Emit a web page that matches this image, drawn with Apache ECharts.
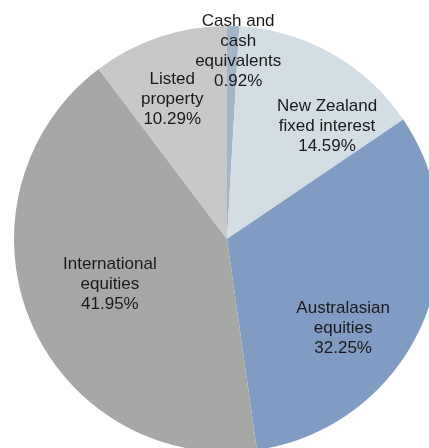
<!DOCTYPE html>
<html>
<head>
<meta charset="utf-8">
<script src="https://cdn.jsdelivr.net/npm/echarts@6/dist/echarts.min.js"></script>
<style>
  html, body { margin: 0; padding: 0; background: #fff; }
  #chart { width: 429px; height: 448px; }
</style>
</head>
<body>
<div id="chart"></div>
<script>
  // asset allocation, clockwise from 12 o'clock
  var categories = ['Cash and\ncash\nequivalents', 'New Zealand\nfixed interest', 'Australasian\nequities', 'International\nequities', 'Listed\nproperty']
  var shares = [0.92, 14.59, 32.25, 41.95, 10.29]
  var colors = ['#a3b5c6', '#d3dde4', '#809cc2', '#a6a8a5', '#c8c8c8']
  // nudges of the labels away from the default "inside" spot
  var labelShift = [[8, -78], [46, -17], [16, 45], [-16, 3], [-20, -36]]

  var chart = echarts.init(document.getElementById('chart'))
  var option = {
    animation: false,
    series: [
      {
        type: 'pie',
        center: [227, 239],
        radius: 213,
        startAngle: 90,
        clockwise: true,
        itemStyle: { borderWidth: 0 },
        label: {
          show: true,
          position: 'inside',
          formatter: function (p) {
            return p.name + '\n' + p.value.toFixed(2) + '%'
          },
          color: '#1a1a1a',
          fontFamily: 'Liberation Sans, Arial, sans-serif',
          fontSize: 17,
          lineHeight: 20,
          align: 'center'
        },
        labelLine: { show: false },
        labelLayout: function (params) {
          var s = labelShift[params.dataIndex]
          return { dx: s[0], dy: s[1] }
        },
        emphasis: { disabled: true },
        data: categories.map(function (name, i) {
          return { name: name, value: shares[i], itemStyle: { color: colors[i] } }
        })
      }
    ]
  }
  chart.setOption(option)
</script>
</body>
</html>
